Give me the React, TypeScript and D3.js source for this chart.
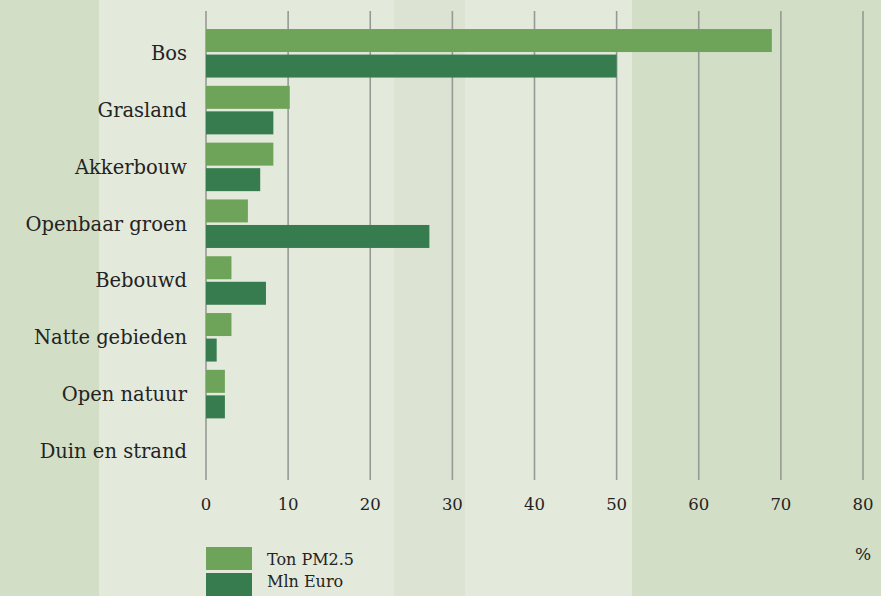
import React from "react";
import * as d3 from "d3";

const categories = [
  "Bos",
  "Grasland",
  "Akkerbouw",
  "Openbaar groen",
  "Bebouwd",
  "Natte gebieden",
  "Open natuur",
  "Duin en strand",
];
const tonPM25 = [68.9, 10.2, 8.2, 5.1, 3.1, 3.1, 2.3, 0];
const mlnEuro = [50.0, 8.2, 6.6, 27.2, 7.3, 1.3, 2.3, 0];
const xTicks = [0, 10, 20, 30, 40, 50, 60, 70, 80];
const seriesNames = ["Ton PM2.5", "Mln Euro"];
const seriesColors = ["#6ea459", "#367c4f"];

const W = 881;
const H = 596;
const FONT = "'DejaVu Serif', serif";
const TEXT = "#232323";

export default function App() {
  const x = d3.scaleLinear().domain([0, 80]).range([206, 863]);
  const y = d3
    .scaleBand<string>()
    .domain(categories)
    .range([24.9, 479.3])
    .paddingInner(0.146)
    .paddingOuter(0.073);
  const sub = d3
    .scaleBand<string>()
    .domain(seriesNames)
    .range([0, y.bandwidth()])
    .paddingInner(0.1);

  const bgBands = [
    { x0: 0, x1: 99, c: "#d2dec5" },
    { x0: 99, x1: 394, c: "#e3e9db" },
    { x0: 394, x1: 465, c: "#dce3d2" },
    { x0: 465, x1: 632, c: "#e3e9db" },
    { x0: 632, x1: W, c: "#d2dec5" },
  ];

  const series = [tonPM25, mlnEuro];

  return (
    <svg
      width={W}
      height={H}
      style={{ position: "absolute", left: 0, top: 0, display: "block" }}
    >
      {bgBands.map((b, i) => (
        <rect key={i} x={b.x0} y={0} width={b.x1 - b.x0} height={H} fill={b.c} />
      ))}
      {xTicks.map((t) => (
        <line
          key={"g" + t}
          x1={x(t)}
          x2={x(t)}
          y1={11}
          y2={480}
          stroke="#979a94"
          strokeWidth={1.6}
        />
      ))}
      {categories.map((c, i) => (
        <g key={c} transform={`translate(0,${y(c)})`}>
          {series.map((s, j) =>
            s[i] > 0 ? (
              <rect
                key={j}
                x={x(0)}
                y={sub(seriesNames[j])}
                width={x(s[i]) - x(0)}
                height={sub.bandwidth()}
                fill={seriesColors[j]}
              />
            ) : null
          )}
          <text
            x={187}
            y={y.bandwidth() / 2}
            dy="0.35em"
            textAnchor="end"
            fontFamily={FONT}
            fontSize={19.5}
            fill={TEXT}
          >
            {c}
          </text>
        </g>
      ))}
      {xTicks.map((t) => (
        <text
          key={"t" + t}
          x={x(t)}
          y={510}
          textAnchor="middle"
          fontFamily={FONT}
          fontSize={16.5}
          fill={TEXT}
        >
          {t}
        </text>
      ))}
      <text
        x={863}
        y={560}
        textAnchor="middle"
        fontFamily={FONT}
        fontSize={17}
        fill={TEXT}
      >
        %
      </text>
      {seriesNames.map((n, j) => (
        <g key={n}>
          <rect
            x={206}
            y={547 + j * 26}
            width={46}
            height={23}
            fill={seriesColors[j]}
          />
          <text
            x={267}
            y={565 + j * 22}
            fontFamily={FONT}
            fontSize={16}
            fill={TEXT}
          >
            {n}
          </text>
        </g>
      ))}
    </svg>
  );
}
